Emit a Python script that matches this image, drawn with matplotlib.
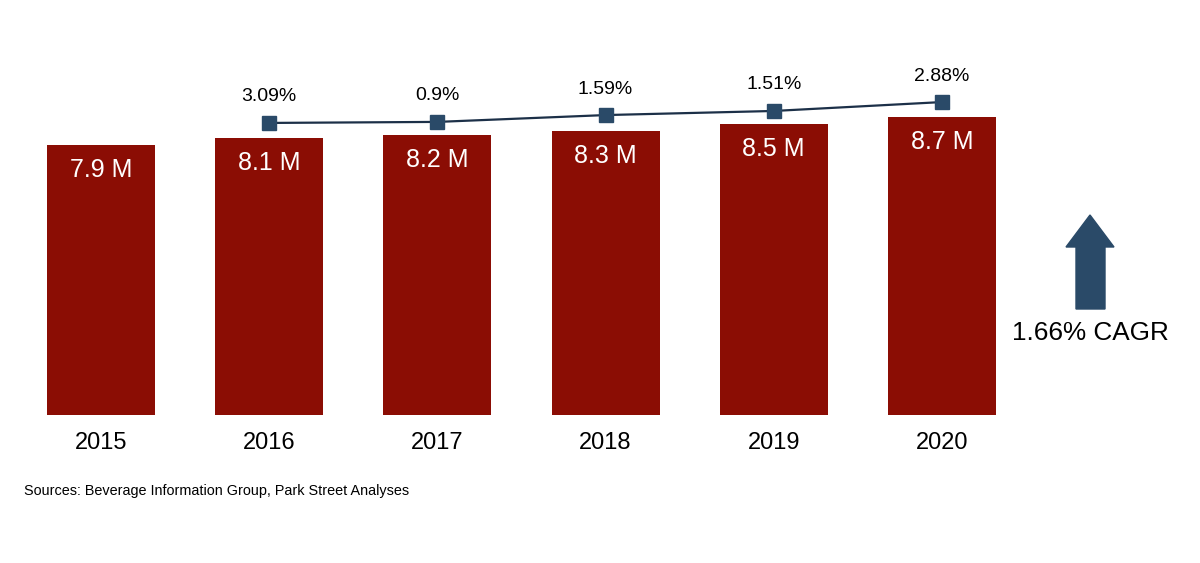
import matplotlib
matplotlib.use("Agg")
import matplotlib.pyplot as plt
from matplotlib.patches import Polygon

plt.rcParams['font.family'] = ['Liberation Sans', 'DejaVu Sans']

years = ["2015", "2016", "2017", "2018", "2019", "2020"]
volumes = [7.9, 8.1, 8.2, 8.3, 8.5, 8.7]          # millions
volume_labels = ["7.9 M", "8.1 M", "8.2 M", "8.3 M", "8.5 M", "8.7 M"]
growth_years = ["2016", "2017", "2018", "2019", "2020"]
growth_labels = ["3.09%", "0.9%", "1.59%", "1.51%", "2.88%"]
growth_line_level = [8.54, 8.57, 8.77, 8.89, 9.15]   # line height
cagr_label = "1.66% CAGR"
source_text = "Sources: Beverage Information Group, Park Street Analyses"

bar_color = "#8b0d04"
line_color = "#1c3048"
marker_color = "#2a4a68"

W, H = 1200, 563
fig = plt.figure(figsize=(W / 100, H / 100), dpi=100)
ax = fig.add_axes([17 / W, (H - 415) / H, 1009 / W, 342 / H])
ax.set_xlim(-0.5, 5.5)
ax.set_ylim(0, 10)
ax.axis("off")

x = list(range(len(years)))
ax.bar(x, volumes, width=0.643, color=bar_color)
for xi, v, lab in zip(x, volumes, volume_labels):
    ax.annotate(lab, (xi, v), xytext=(0, -25), textcoords="offset pixels",
                ha="center", va="center", color="white", fontsize=18)
    ax.annotate(years[xi], (xi, 0), xytext=(0, -28), textcoords="offset pixels",
                ha="center", va="center", color="black", fontsize=17,
                annotation_clip=False)

gx = [years.index(y) for y in growth_years]
ax.plot(gx, growth_line_level, color=line_color, lw=1.6, marker="s",
        markersize=10.5, markerfacecolor=marker_color, markeredgecolor=marker_color,
        clip_on=False, zorder=3)
for xi, v, lab in zip(gx, growth_line_level, growth_labels):
    ax.annotate(lab, (xi, v), xytext=(0, 26), textcoords="offset pixels",
                ha="center", va="center", color="black", fontsize=14,
                annotation_clip=False)

def fx(px):
    return px / W

def fy(py):
    return (H - py) / H

# CAGR arrow (decoration) in figure pixel space
pts = [(1076, 309), (1105, 309), (1105, 247), (1114, 247), (1090, 215),
       (1066, 247), (1076, 247)]
poly = Polygon([(fx(a), fy(b)) for a, b in pts], closed=True,
               transform=fig.transFigure, facecolor=marker_color,
               edgecolor=marker_color)
fig.patches.append(poly)

fig.text(fx(1090), fy(333), cagr_label, ha="center", va="center",
         fontsize=18.8, color="black")
fig.text(fx(24), fy(491), source_text, ha="left", va="center",
         fontsize=10.4, color="black")

fig.savefig("out.png", dpi=100, facecolor="white")
